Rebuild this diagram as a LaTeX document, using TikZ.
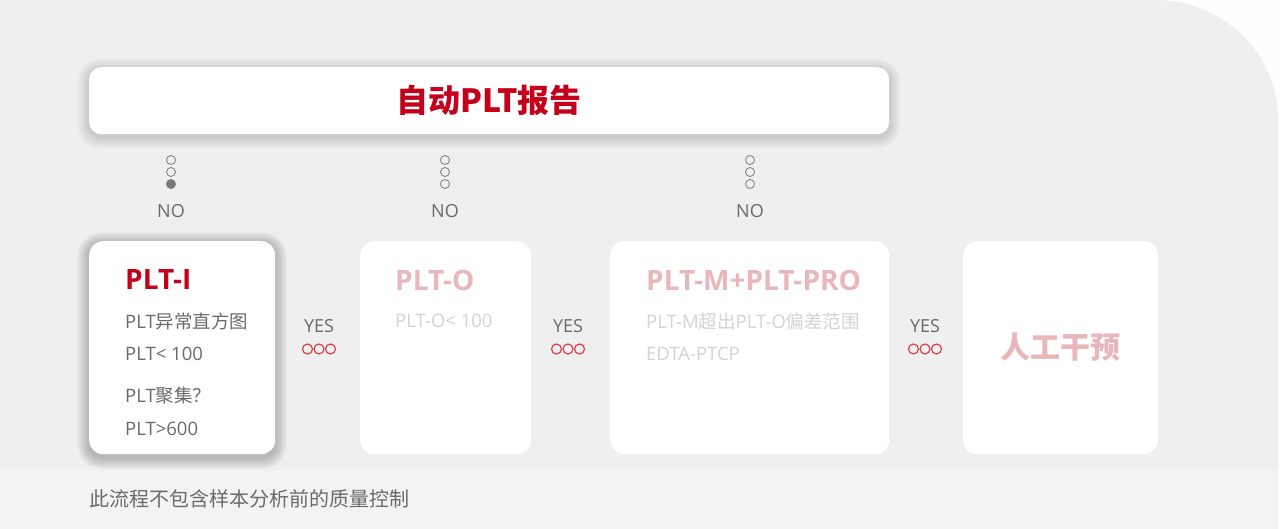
\documentclass[tikz,border=0pt]{standalone}
\usepackage{fontspec}
\setmainfont{Open Sans}
\newfontfamily\cjk{Noto Sans CJK SC}
\usepackage{xcolor}
\usepackage{tikz}

\definecolor{pltred}{HTML}{C4001A}
\definecolor{pltpink}{HTML}{E9B7BB}
\definecolor{ringred}{HTML}{D8404C}
\definecolor{txtgray}{HTML}{6A6A6A}
\definecolor{faintgray}{HTML}{D3D3D3}
\definecolor{bggray}{HTML}{EFEFEF}
\newcommand\pxsize[1]{\fontsize{#1}{#1}\selectfont}
% soft shadow: x1 y1 x2 y2 opacity per layer
\newcommand\softshadow[5]{%
  \foreach \i in {1,...,12}
    \fill[black, opacity=#5, rounded corners=12pt+\i pt]
      (#1-\i, #2-\i+3) rectangle (#3+\i, #4+\i+3);}

\begin{document}
\begin{tikzpicture}[x=1pt,y=-1pt,
      card/.style={fill=white, rounded corners=14pt, anchor=north west, inner sep=0pt},
      head/.style={anchor=west, inner sep=0pt, font=\pxsize{28}\bfseries},
      line/.style={anchor=west, inner sep=0pt, font=\pxsize{18.5}, text=txtgray},
      dim/.style={line, text=faintgray},
      dot/.style={circle, draw=txtgray!80, line width=0.9pt, minimum size=9pt, inner sep=0pt},
      ring/.style={circle, draw=ringred, line width=1.2pt, minimum size=10pt, inner sep=0pt},
      tag/.style={inner sep=0pt, font=\pxsize{18}, text=txtgray}
      ]
      \useasboundingbox (0,0) rectangle (1280,529);
      \fill[white!96!bggray] (0,0) rectangle (1280,529);
      \fill[bggray] (0,0) -- (1155,0) to[out=0,in=90] (1278,120) -- (1278,529) -- (0,529) -- cycle;
      \fill[white, opacity=0.3] (0,470) rectangle (1278,529);

      % shadows
      \softshadow{89}{67}{889}{134}{0.011}
      \softshadow{89}{241}{275}{454}{0.018}

      % report banner
      \node[card, rounded corners=12pt, minimum width=800pt, minimum height=67pt] (report) at (89,67) {};
      \node[text=pltred, font=\pxsize{32}\cjk\bfseries] (reportlbl) at (report.center) {自动PLT报告};

      % the three stages and the manual step
      \node[card, minimum width=186pt, minimum height=213pt] (plti) at (89,241) {};
      \node[card, minimum width=171pt, minimum height=213pt] (plto) at (360,241) {};
      \node[card, minimum width=279pt, minimum height=213pt] (pltm) at (610,241) {};
      \node[card, minimum width=195pt, minimum height=213pt] (manual) at (963,241) {};

      \node[head, text=pltred] (plti-h) at (125,280) {PLT-I};
      \node[line] (plti-a) at (125,321) {PLT{\cjk 异常直方图}};
      \node[line] (plti-b) at (125,354) {PLT< 100};
      \node[line] (plti-c) at (125,396) {PLT{\cjk 聚集？}};
      \node[line] (plti-d) at (125,429) {PLT>600};

      \node[head, text=pltpink] (plto-h) at (395,280) {PLT-O};
      \node[dim] (plto-a) at (395,321) {PLT-O< 100};

      \node[head, text=pltpink] (pltm-h) at (646,280) {PLT-M+PLT-PRO};
      \node[dim] (pltm-a) at (646,321) {PLT-M{\cjk 超出}PLT-O{\cjk 偏差范围}};
      \node[dim] (pltm-b) at (646,354) {EDTA-PTCP};

      \node[text=pltpink, font=\pxsize{30}\cjk\bfseries] (manual-h) at (manual.center) {人工干预};

      % NO markers under the banner
      \foreach \x/\n in {171/a,445/b,750/c} {
        \foreach \y/\k in {160/1,172/2,184/3}
          \node[dot] (no\n\k) at (\x,\y) {};
        \node[tag] (no\n) at (\x,211) {NO};
      }
      \fill[txtgray!90] (noa3) circle (4.5pt);

      % YES markers between the cards
      \foreach \x/\n in {319/a,568/b,925/c} {
        \node[tag] (yes\n) at (\x,326) {YES};
        \node[ring] (yes\n2) at (\x,349) {};
        \node[ring] (yes\n1) at ([xshift=-11.5pt]yes\n2) {};
        \node[ring] (yes\n3) at ([xshift=11.5pt]yes\n2) {};
      }

      \node[anchor=west, inner sep=0pt, text=txtgray, font=\pxsize{20}\cjk] (note) at (89,499) {此流程不包含样本分析前的质量控制};
    \end{tikzpicture}
\end{document}
